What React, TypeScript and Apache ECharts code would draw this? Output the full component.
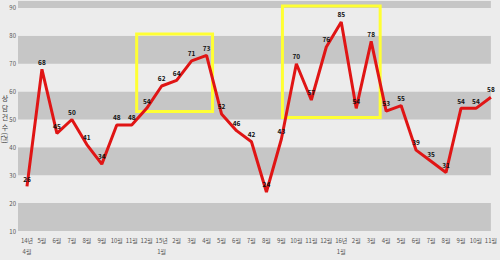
import React, { useEffect, useRef } from "react";
import * as echarts from "echarts";

const categories = [
  "14년\n4월", "5월", "6월", "7월", "8월", "9월", "10월", "11월", "12월",
  "15년\n1월", "2월", "3월", "4월", "5월", "6월", "7월", "8월", "9월", "10월", "11월", "12월",
  "16년\n1월", "2월", "3월", "4월", "5월", "6월", "7월", "8월", "9월", "10월", "11월",
];

const counts = [
  26, 68, 45, 50, 41, 34, 48, 48, 54, 62, 64, 71, 73, 52, 46, 42, 24, 43,
  70, 57, 76, 85, 54, 78, 53, 55, 39, 35, 31, 54, 54, 58,
];

const yTicks = [10, 20, 30, 40, 50, 60, 70, 80, 90];

const titleChars = ["상", "담", "건", "수"];

// highlight boxes: [xFrom, yTop, xTo, yBottom] in axis units
const highlightBoxes = [
  [7.33, 80.7, 12.4, 52.9],
  [17.07, 90.7, 23.6, 50.7],
];

export default function App() {
  const ref = useRef<HTMLDivElement>(null);
  useEffect(() => {
    document.body.style.margin = "0";
    if (!ref.current) return;
    const chart = echarts.init(ref.current, null, { renderer: "svg" });
    const font = "'Noto Sans CJK KR', 'Noto Sans', sans-serif";
    chart.setOption({
      animation: false,
      backgroundColor: "#ececec",
      grid: { left: 18, right: 7, top: 1, bottom: 29, containLabel: false },
      xAxis: {
        type: "value",
        min: -0.6,
        max: 31,
        axisLine: { show: false },
        axisTick: { show: false },
        splitLine: { show: false },
        axisLabel: {
          customValues: categories.map((_, i) => i),
          formatter: (v: number) => categories[Math.round(v)] ?? "",
          fontSize: 6,
          color: "#555",
          fontFamily: font,
          lineHeight: 11,
          margin: 4,
          verticalAlign: "top",
        },
      },
      yAxis: {
        type: "value",
        min: 10,
        max: 92.5,
        interval: 10,
        axisLine: { show: false },
        axisTick: { show: false },
        splitLine: { show: false },
        splitArea: { show: true, areaStyle: { color: ["#c6c6c6", "#ececec"] } },
        axisLabel: {
          customValues: yTicks,
          fontSize: 6,
          color: "#555",
          fontFamily: font,
          margin: 2,
          padding: [0, 0, 6, 0],
        },
      },
      graphic: [
        ...titleChars.map((c, i) => ({
          type: "text",
          x: 5,
          y: 98 + i * 9.5,
          style: {
            text: c,
            fontSize: 7,
            fill: "#444",
            fontFamily: font,
            align: "center",
            verticalAlign: "middle",
          },
        })),
        {
          type: "text",
          x: 5,
          y: 138,
          rotation: -Math.PI / 2,
          style: {
            text: "(건)",
            fontSize: 7,
            fill: "#444",
            fontFamily: font,
            align: "center",
            verticalAlign: "middle",
          },
        },
      ],
      series: [
        {
          type: "line",
          data: counts.map((v, i) => [i, v]),
          showSymbol: true,
          symbol: "circle",
          symbolSize: 1,
          itemStyle: { color: "rgba(0,0,0,0)" },
          lineStyle: { color: "#e01515", width: 3 },
          label: {
            show: true,
            position: "top",
            distance: 4,
            fontSize: 6.5,
            fontWeight: "bold",
            color: "#111",
            fontFamily: font,
            formatter: (p: any) => String(p.value[1]),
          },
          labelLayout: { hideOverlap: false },
          markArea: {
            silent: true,
            itemStyle: { color: "rgba(0,0,0,0)", borderColor: "#ffff33", borderWidth: 3 },
            data: highlightBoxes.map((b) => [
              { coord: [b[0], b[1]] },
              { coord: [b[2], b[3]] },
            ]),
          },
          z: 3,
        },
      ],
    });
    return () => chart.dispose();
  }, []);
  return <div ref={ref} style={{ width: 500, height: 260 }} />;
}
